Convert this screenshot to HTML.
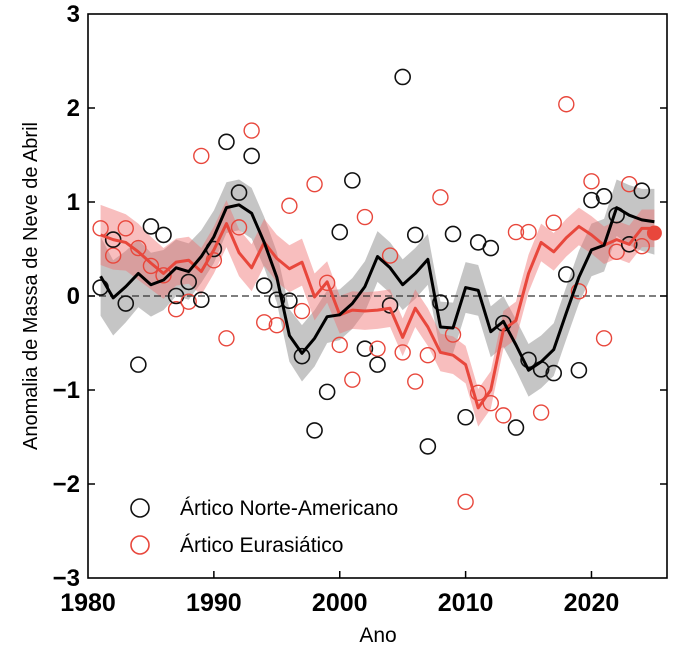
<!DOCTYPE html>
<html><head><meta charset="utf-8"><style>
body{margin:0;background:#fff;}
svg{display:block;font-family:"Liberation Sans",sans-serif;}
</style></head><body>
<svg id="chart" width="680" height="660" viewBox="0 0 680 660" xmlns="http://www.w3.org/2000/svg"></svg>
<script>
const years=[];for(let y=1981;y<=2025;y++)years.push(y);
const naObs=[0.09,0.6,-0.08,-0.73,0.74,0.65,0.0,0.15,-0.04,0.5,1.64,1.1,1.49,0.11,-0.04,-0.05,-0.64,-1.43,-1.02,0.68,1.23,-0.56,-0.73,-0.1,2.33,0.65,-1.6,-0.07,0.66,-1.29,0.57,0.51,-0.29,-1.4,-0.68,-0.78,-0.82,0.23,-0.79,1.02,1.06,0.86,0.55,1.12,null];
const euObs=[0.72,0.43,0.72,0.51,0.32,0.22,-0.14,-0.06,1.49,0.38,-0.45,0.73,1.76,-0.28,-0.31,0.96,-0.16,1.19,0.14,-0.52,-0.89,0.84,-0.56,0.43,-0.6,-0.91,-0.63,1.05,-0.41,-2.19,-1.03,-1.14,-1.27,0.68,0.68,-1.24,0.78,2.04,0.05,1.22,-0.45,0.47,1.19,0.53,0.67];
const naMean=[0.21,-0.02,0.1,0.24,0.12,0.17,0.3,0.26,0.42,0.63,0.94,0.97,0.88,0.57,0.2,-0.42,-0.61,-0.45,-0.22,-0.2,-0.08,0.1,0.42,0.3,0.12,0.24,0.39,-0.33,-0.34,0.09,0.06,-0.38,-0.27,-0.52,-0.79,-0.7,-0.57,-0.18,0.2,0.49,0.54,0.94,0.86,0.81,0.79];
const euMean=[0.65,0.6,0.57,0.47,0.35,0.24,0.36,0.38,0.26,0.49,0.77,0.46,0.3,0.57,0.4,0.29,0.36,-0.01,0.15,-0.2,-0.15,-0.16,-0.15,-0.13,-0.44,-0.13,-0.33,-0.6,-0.63,-0.73,-1.19,-1.0,-0.36,-0.26,0.24,0.57,0.47,0.62,0.74,0.65,0.54,0.6,0.55,0.72,0.72];
const naErr=[0.42,0.4,0.38,0.36,0.34,0.32,0.3,0.3,0.28,0.28,0.27,0.27,0.27,0.27,0.27,0.28,0.3,0.3,0.28,0.27,0.27,0.27,0.27,0.27,0.27,0.27,0.27,0.27,0.27,0.27,0.27,0.27,0.27,0.27,0.28,0.28,0.28,0.28,0.28,0.28,0.28,0.3,0.32,0.33,0.35];
const euErr=[0.32,0.32,0.3,0.3,0.28,0.27,0.25,0.25,0.25,0.25,0.25,0.25,0.25,0.25,0.25,0.25,0.25,0.25,0.22,0.2,0.2,0.2,0.2,0.2,0.2,0.2,0.2,0.2,0.2,0.2,0.2,0.2,0.2,0.2,0.2,0.2,0.2,0.2,0.2,0.2,0.2,0.2,0.2,0.2,0.2];
const xTicks=[1980,1990,2000,2010,2020];
const yTicks=[-3,-2,-1,0,1,2,3];
const L=88,R=667,T=14,B=578;
const X=v=>L+(v-1980)/(2026-1980)*(R-L);
const Y=v=>T+(3-v)/6*(B-T);
const svg=document.getElementById('chart');
const NS='http://www.w3.org/2000/svg';
function mk(tag,attrs,parent){const e=document.createElementNS(NS,tag);for(const k in attrs)e.setAttribute(k,attrs[k]);(parent||svg).appendChild(e);return e;}
function band(mean,err,fill,name){
  let up=years.map((y,i)=>X(y)+','+Y(mean[i]+err[i]));
  let dn=years.map((y,i)=>X(y)+','+Y(mean[i]-err[i])).reverse();
  const p=mk('polygon',{points:up.concat(dn).join(' '),fill:fill});
  
  
}
function line(mean,stroke,name){
  const p=mk('polyline',{points:years.map((y,i)=>X(y)+','+Y(mean[i])).join(' '),fill:'none',stroke:stroke,'stroke-width':3,'stroke-linejoin':'round'});
  
  
}
band(naMean,naErr,'rgba(150,150,150,0.55)','north-america-band');
band(euMean,euErr,'rgba(240,110,110,0.45)','eurasia-band');
const zl=mk('line',{x1:L,x2:R,y1:Y(0),y2:Y(0),stroke:'#333','stroke-width':1.2,'stroke-dasharray':'7,4'});


years.forEach((y,i)=>{
  if(euObs[i]!==null&&y!==2025){const c=mk('circle',{cx:X(y),cy:Y(euObs[i]),r:7.5,fill:'none',stroke:'#e8473c','stroke-width':1.4});
  
  }
  if(naObs[i]!==null){const c=mk('circle',{cx:X(y),cy:Y(naObs[i]),r:7.5,fill:'none',stroke:'#111','stroke-width':1.6});
  
  }
});
line(euMean,'#e8473c','eurasia-mean-line');
line(naMean,'#000','north-america-mean-line');
const last=mk('circle',{cx:X(2025),cy:Y(euObs[44]),r:7.5,fill:'#e8473c'});


const fr=mk('rect',{x:L,y:T,width:R-L,height:B-T,fill:'none',stroke:'#000','stroke-width':1.6});


xTicks.forEach(t=>{
  if(t>1980){const tk=mk('line',{x1:X(t),x2:X(t),y1:B,y2:B-7,stroke:'#000','stroke-width':1.5});
  
  }
  const tx=mk('text',{x:X(t),y:B+33,'text-anchor':'middle','font-size':25,'font-weight':'bold'});tx.textContent=t;
  
  
});
yTicks.forEach(t=>{
  if(t>-3&&t<3){
    const a=mk('line',{x1:L,x2:L+7,y1:Y(t),y2:Y(t),stroke:'#000','stroke-width':1.5});
    
    
    const b=mk('line',{x1:R,x2:R-7,y1:Y(t),y2:Y(t),stroke:'#000','stroke-width':1.5});
    
    
  }
  const tx=mk('text',{x:L-8,y:Y(t)+8,'text-anchor':'end','font-size':24,'font-weight':'bold'});tx.textContent=(t<0?'\u2212'+(-t):t);
  
  
});
const xt=mk('text',{x:378,y:642,'text-anchor':'middle','font-size':21});xt.textContent='Ano';


const yt=mk('text',{x:0,y:0,'text-anchor':'middle','font-size':20,transform:'translate(37,286) rotate(-90)'});yt.textContent='Anomalia de Massa de Neve de Abril';


const lg=[['#111','Ártico Norte-Americano',508],['#e8473c','Ártico Eurasiático',545]];
lg.forEach(d=>{
  const c=mk('circle',{cx:140,cy:d[2],r:9,fill:'none',stroke:d[0],'stroke-width':1.6});
  
  
  const t=mk('text',{x:180,y:d[2]+7,'font-size':21});t.textContent=d[1];
  
  
});
</script>
</body></html>
